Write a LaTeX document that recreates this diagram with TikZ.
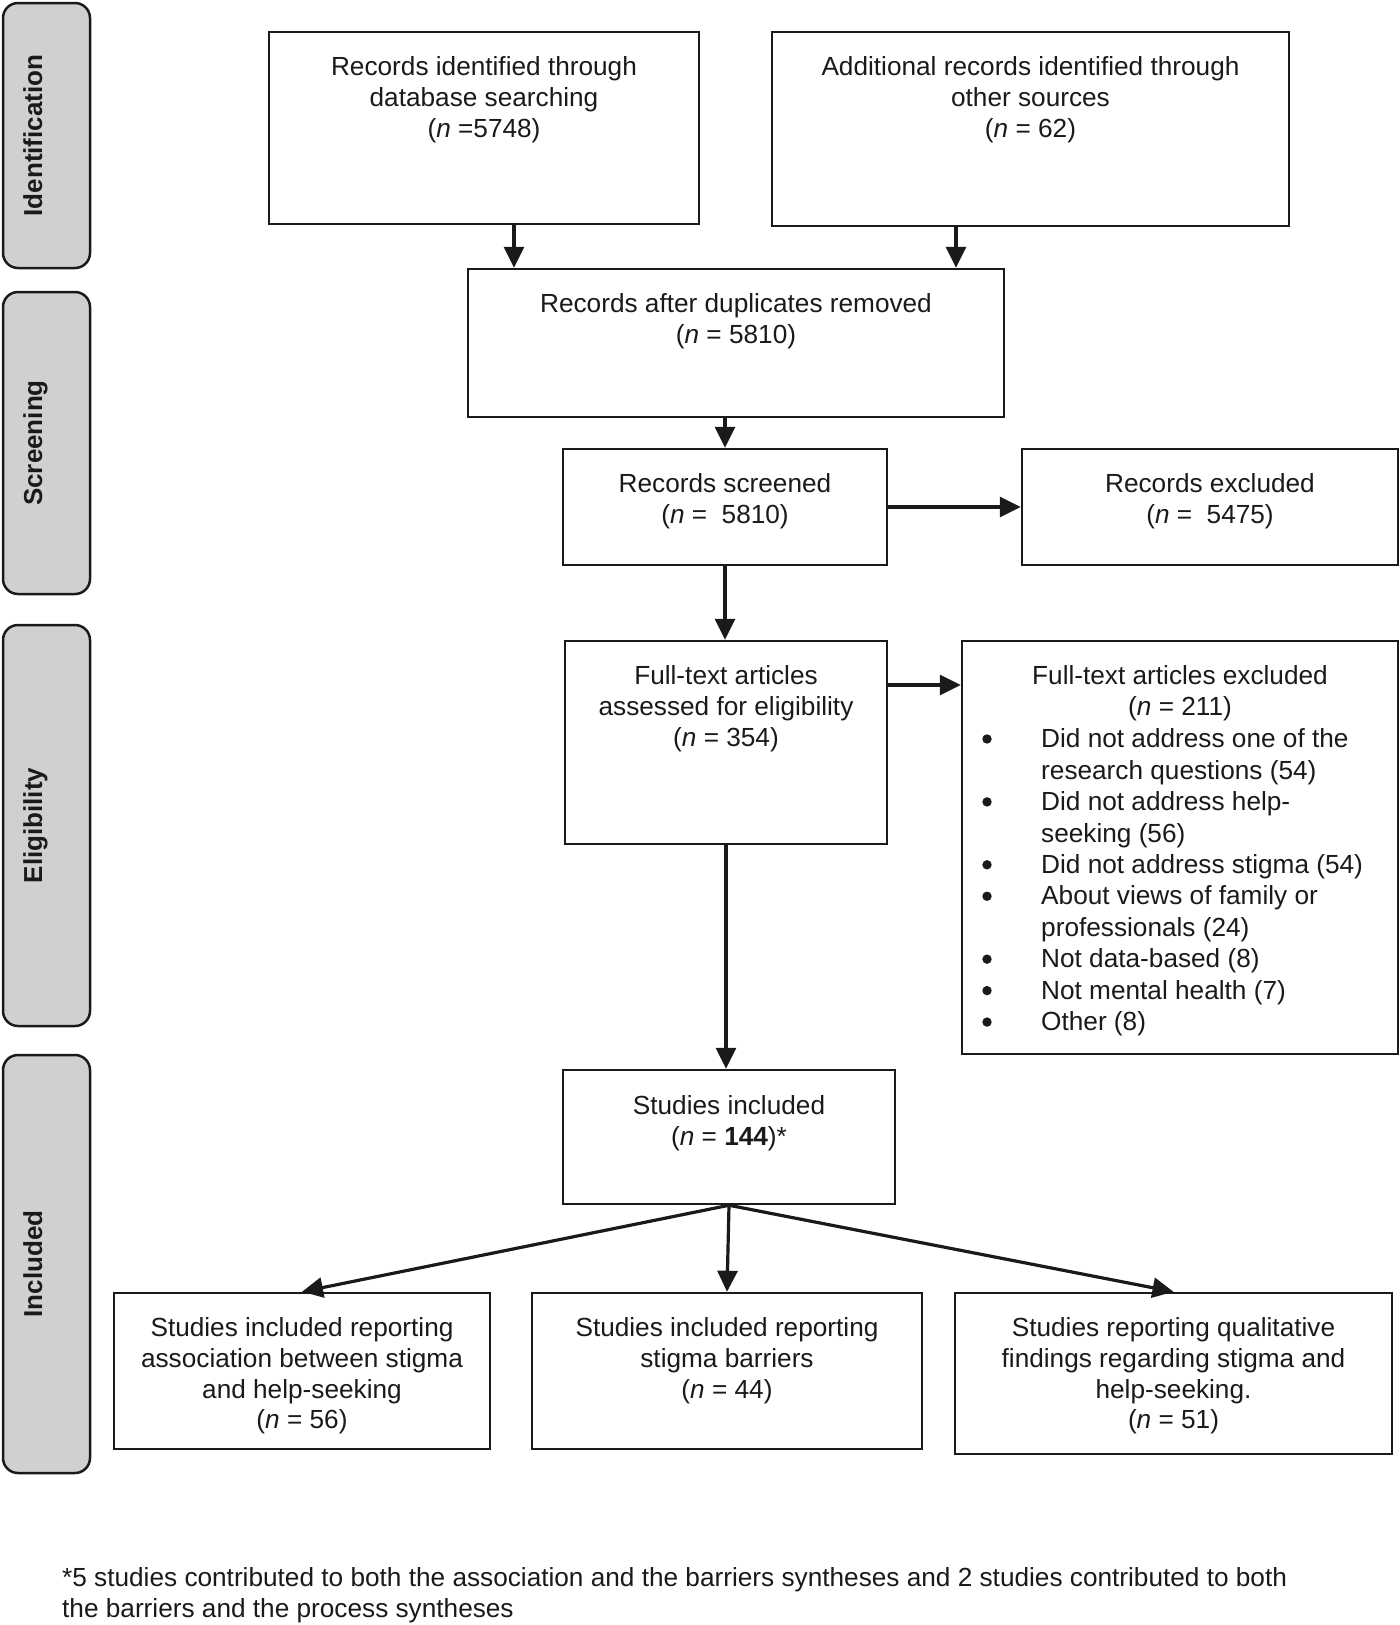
\documentclass[tikz,border=0pt]{standalone}
\usepackage{fontspec}
\setmainfont{Liberation Sans}
\usetikzlibrary{arrows.meta,calc}
\definecolor{ink}{HTML}{1A1A1A}
\definecolor{tabgray}{HTML}{D0D0D0}
\tikzset{
  box/.style={draw=ink, line width=2.5pt, rectangle, inner sep=0pt},
  tab/.style={draw=ink, line width=2.5pt, fill=tabgray, rounded corners=15pt, rectangle, inner sep=0pt, minimum width=87},
  txt/.style={inner sep=0pt, align=center, text=ink, font=\fontsize{26.2pt}{30.6pt}\selectfont, anchor=north},
  listtxt/.style={inner sep=0pt, align=left, text=ink, font=\fontsize{26.2pt}{31.45pt}\selectfont, anchor=north west},
  tablabel/.style={inner sep=0pt, rotate=90, anchor=base, text=ink, font=\fontsize{26pt}{30pt}\selectfont\bfseries},
  foot/.style={inner sep=0pt, anchor=base west, text=ink, font=\fontsize{26.2pt}{30.6pt}\selectfont},
  arr/.style={draw=ink, line width=3.2pt, -{Triangle[length=21pt,width=20pt]}},
  dot/.style={fill=ink}
}
\begin{document}
\begin{tikzpicture}[x=1pt,y=-1pt]
\useasboundingbox[fill=white] (0,0) rectangle (1400,1625);

% phase tabs
\node[tab, minimum height=265] (tab1) at (46.5,135.5) {};
\node[tab, minimum height=302] (tab2) at (46.5,443) {};
\node[tab, minimum height=401] (tab3) at (46.5,825.5) {};
\node[tab, minimum height=418] (tab4) at (46.5,1264) {};
\node[tablabel] (l1) at (42,135.5) {Identification};
\node[tablabel] (l2) at (42,443) {Screening};
\node[tablabel] (l3) at (42,825.5) {Eligibility};
\node[tablabel] (l4) at (42,1264) {Included};

% boxes
\node[box, minimum width=430, minimum height=192] (b1) at (484,128) {};
\node[box, minimum width=517, minimum height=194] (b2) at (1030.5,129) {};
\node[box, minimum width=536, minimum height=148] (b3) at (736,343) {};
\node[box, minimum width=324, minimum height=116] (b4) at (725,507) {};
\node[box, minimum width=376, minimum height=116] (b5) at (1210,507) {};
\node[box, minimum width=322, minimum height=203] (b6) at (726,742.5) {};
\node[box, minimum width=436, minimum height=413] (b7) at (1180,847.5) {};
\node[box, minimum width=332, minimum height=134] (b8) at (729,1137) {};
\node[box, minimum width=376, minimum height=156] (b9) at (302,1371) {};
\node[box, minimum width=390, minimum height=156] (b10) at (727,1371) {};
\node[box, minimum width=437, minimum height=161] (b11) at (1173.5,1373.5) {};

% texts
\node[txt] (t1) at ($(b1.north)+(0,26)$) {Records identified through\\database searching\\(\textit{n} =5748)};
\node[txt] (t2) at ($(b2.north)+(0,26)$) {Additional records identified through\\other sources\\(\textit{n} = 62)};
\node[txt] (t3) at ($(b3.north)+(0,26)$) {Records after duplicates removed\\(\textit{n} = 5810)};
\node[txt] (t4) at ($(b4.north)+(0,26)$) {Records screened\\(\textit{n} =\ \ 5810)};
\node[txt] (t5) at ($(b5.north)+(0,26)$) {Records excluded\\(\textit{n} =\ \ 5475)};
\node[txt] (t6) at ($(b6.north)+(0,26)$) {Full-text articles\\assessed for eligibility\\(\textit{n} = 354)};
\node[txt] (t7) at ($(b7.north)+(0,26)$) {Full-text articles excluded\\(\textit{n} = 211)};
\node[listtxt] (t7l) at (1041,728.5) {Did not address one of the\\research questions (54)\\Did not address help-\\seeking (56)\\Did not address stigma (54)\\About views of family or\\professionals (24)\\Not data-based (8)\\Not mental health (7)\\Other (8)};
\foreach \k in {0,2,4,5,7,8,9} {
  \fill[dot] (987,{739+\k*31.45}) circle (4.7);
}
\node[txt] (t8) at ($(b8.north)+(0,26.5)$) {Studies included\\(\textit{n} = \textbf{144})*};
\node[txt] (t9) at ($(b9.north)+(0,26)$) {Studies included reporting\\association between stigma\\and help-seeking\\(\textit{n} = 56)};
\node[txt] (t10) at ($(b10.north)+(0,26)$) {Studies included reporting\\stigma barriers\\(\textit{n} = 44)};
\node[txt] (t11) at ($(b11.north)+(0,26)$) {Studies reporting qualitative\\findings regarding stigma and\\help-seeking.\\(\textit{n} = 51)};

% footer
\node[foot] (f1) at (62,1586) {*5 studies contributed to both the association and the barriers syntheses and 2 studies contributed to both};
\node[foot] (f2) at (62,1617) {the barriers and the process syntheses};

% connectors
\coordinate (a1) at (514,0);
\coordinate (a2) at (956,0);
\coordinate (a3) at (0,685);
\draw[arr] (b1.south -| a1) -- (b3.north -| a1);
\draw[arr] (b2.south -| a2) -- (b3.north -| a2);
\draw[arr] (b3.south -| b4.north) -- (b4.north);
\draw[arr] (b4.east) -- (b5.west);
\draw[arr] (b4.south) -- (b6.north -| b4.south);
\draw[arr] (b6.east |- a3) -- (b7.west |- a3);
\draw[arr] (b6.south) -- (b8.north -| b6.south);
\draw[arr] (b8.south) -- (b9.north);
\draw[arr] (b8.south) -- (b10.north);
\draw[arr] (b8.south) -- (b11.north);
\end{tikzpicture}
\end{document}
